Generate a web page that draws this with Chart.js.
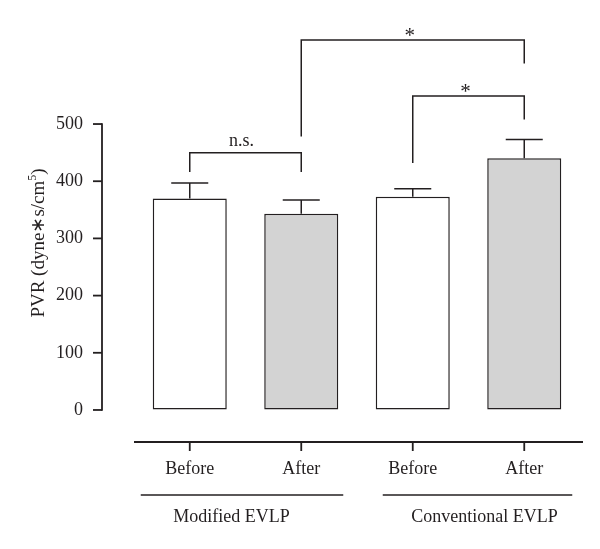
<!DOCTYPE html>
<html><head><meta charset="utf-8">
<script src="https://cdn.jsdelivr.net/npm/chart.js@4"></script>
<style>html,body{margin:0;padding:0;background:#fff}#wrap{width:600px;height:549px;position:relative}</style>
</head><body><div id="wrap"><canvas id="c"></canvas></div>
<script>
// ---- data ----
const categories = ['Before', 'After', 'Before', 'After'];
const groups = ['Modified EVLP', 'Conventional EVLP'];
const groupMembers = [[0, 1], [2, 3]];
const means = [370, 343, 373, 440];
const errors = [27, 24, 14, 33];
const barColors = ['#ffffff', '#d3d3d3', '#ffffff', '#d3d3d3'];
const yTicks = [0, 100, 200, 300, 400, 500];
const bracketFrom = [0, 1, 2];
const bracketTo = [1, 3, 3];
const bracketLevel = [450, 647, 549];
const bracketLegFrom = [416, 478, 432];
const bracketLegTo = [416, 606, 508];
const bracketLabels = ['n.s.', '*', '*'];
const yTitle = ['PVR (dyne\u2217s/cm', '5', ')'];

// ---- style ----
const FONT = "'Liberation Serif', 'Times New Roman', serif";
const INK = '#231f20';

function seg(ctx, x1, y1, x2, y2) { ctx.beginPath(); ctx.moveTo(x1, y1); ctx.lineTo(x2, y2); ctx.stroke(); }

const decor = {
  id: 'decor',
  afterDraw(chart) {
    const { ctx, chartArea, scales: { x, y } } = chart;
    ctx.save();
    ctx.strokeStyle = INK; ctx.fillStyle = INK; ctx.lineWidth = 1.5;
    const bars = chart.getDatasetMeta(0).data;
    // error bars
    means.forEach((m, i) => {
      const cx = x.getPixelForValue(i);
      const top = y.getPixelForValue(m);
      const e = y.getPixelForValue(m + errors[i]);
      const hw = bars[i].width / 4;
      seg(ctx, cx, top, cx, e);
      seg(ctx, cx - hw, e, cx + hw, e);
    });
    // y axis
    ctx.lineWidth = 1.8;
    const ax = chartArea.left - 32;
    const y0 = y.getPixelForValue(yTicks[0]);
    const y1 = y.getPixelForValue(yTicks[yTicks.length - 1]);
    seg(ctx, ax, y0 + 0.9, ax, y1 - 0.9);
    yTicks.forEach(v => { const p = y.getPixelForValue(v); seg(ctx, ax - 9, p, ax, p); });
    // x axis
    const bx = chartArea.bottom;
    seg(ctx, chartArea.left, bx, chartArea.right + 3, bx);
    categories.forEach((c, i) => { const p = x.getPixelForValue(i); seg(ctx, p, bx, p, bx + 9); });
    // groups
    const gOff = [[-49, 42], [-30, 48]];
    const gLab = [-14, 16];
    ctx.lineWidth = 1.6;
    ctx.font = '18px ' + FONT;
    ctx.textAlign = 'center'; ctx.textBaseline = 'middle';
    groups.forEach((g, k) => {
      const a = x.getPixelForValue(groupMembers[k][0]);
      const b = x.getPixelForValue(groupMembers[k][1]);
      seg(ctx, a + gOff[k][0], bx + 53, b + gOff[k][1], bx + 53);
      ctx.fillText(g, (a + b) / 2 + gLab[k], bx + 75);
    });
    // brackets
    ctx.lineWidth = 1.5;
    bracketLabels.forEach((lab, k) => {
      const a = x.getPixelForValue(bracketFrom[k]);
      const b = x.getPixelForValue(bracketTo[k]);
      const ly = y.getPixelForValue(bracketLevel[k]);
      ctx.beginPath();
      ctx.moveTo(a, y.getPixelForValue(bracketLegFrom[k]));
      ctx.lineTo(a, ly); ctx.lineTo(b, ly);
      ctx.lineTo(b, y.getPixelForValue(bracketLegTo[k]));
      ctx.stroke();
      ctx.textBaseline = 'alphabetic';
      if (lab === '*') { ctx.font = '21px ' + FONT; ctx.fillText(lab, (a + b) / 2 - 3, ly + 2); }
      else { ctx.font = '18px ' + FONT; ctx.fillText(lab, (a + b) / 2 - 4, ly - 7); }
    });
    // y title
    ctx.translate(44, 243);
    ctx.rotate(-Math.PI / 2);
    ctx.textAlign = 'left'; ctx.textBaseline = 'alphabetic';
    const fMain = '19px ' + FONT, fSup = '12px ' + FONT;
    ctx.font = fMain; const w1 = ctx.measureText(yTitle[0]).width; const w3 = ctx.measureText(yTitle[2]).width;
    ctx.font = fSup; const w2 = ctx.measureText(yTitle[1]).width;
    let sx = -(w1 + w2 + w3) / 2;
    ctx.font = fMain; ctx.fillText(yTitle[0], sx, 0); sx += w1;
    ctx.font = fSup; ctx.fillText(yTitle[1], sx, -8); sx += w2;
    ctx.font = fMain; ctx.fillText(yTitle[2], sx, 0);
    ctx.restore();
  }
};

new Chart(document.getElementById('c'), {
  type: 'bar',
  data: {
    labels: categories,
    datasets: [{
      data: means, backgroundColor: barColors, borderColor: INK, borderWidth: 1.5,
      borderSkipped: false, categoryPercentage: 1, barPercentage: 0.664
    }]
  },
  options: {
    responsive: true, maintainAspectRatio: false, animation: false,
    layout: { padding: { left: 0, right: 20, top: 0, bottom: 0 } },
    plugins: { legend: { display: false }, tooltip: { enabled: false } },
    scales: {
      x: {
        grid: { display: false }, border: { display: false },
        ticks: { font: { family: FONT, size: 18 }, color: INK, padding: 8, maxRotation: 0 },
        afterFit(s) { s.height = 107; }
      },
      y: {
        min: -56, max: 698,
        grid: { display: true, drawOnChartArea: false, drawTicks: true, tickLength: 51, color: 'rgba(0,0,0,0)' },
        border: { display: false },
        afterBuildTicks(s) { s.ticks = yTicks.map(v => ({ value: v })); },
        ticks: { font: { family: FONT, size: 18 }, color: INK, padding: 0, callback: v => String(v) },
        afterFit(s) { s.width = 134; }
      }
    }
  },
  plugins: [decor]
});
</script>
</body></html>
